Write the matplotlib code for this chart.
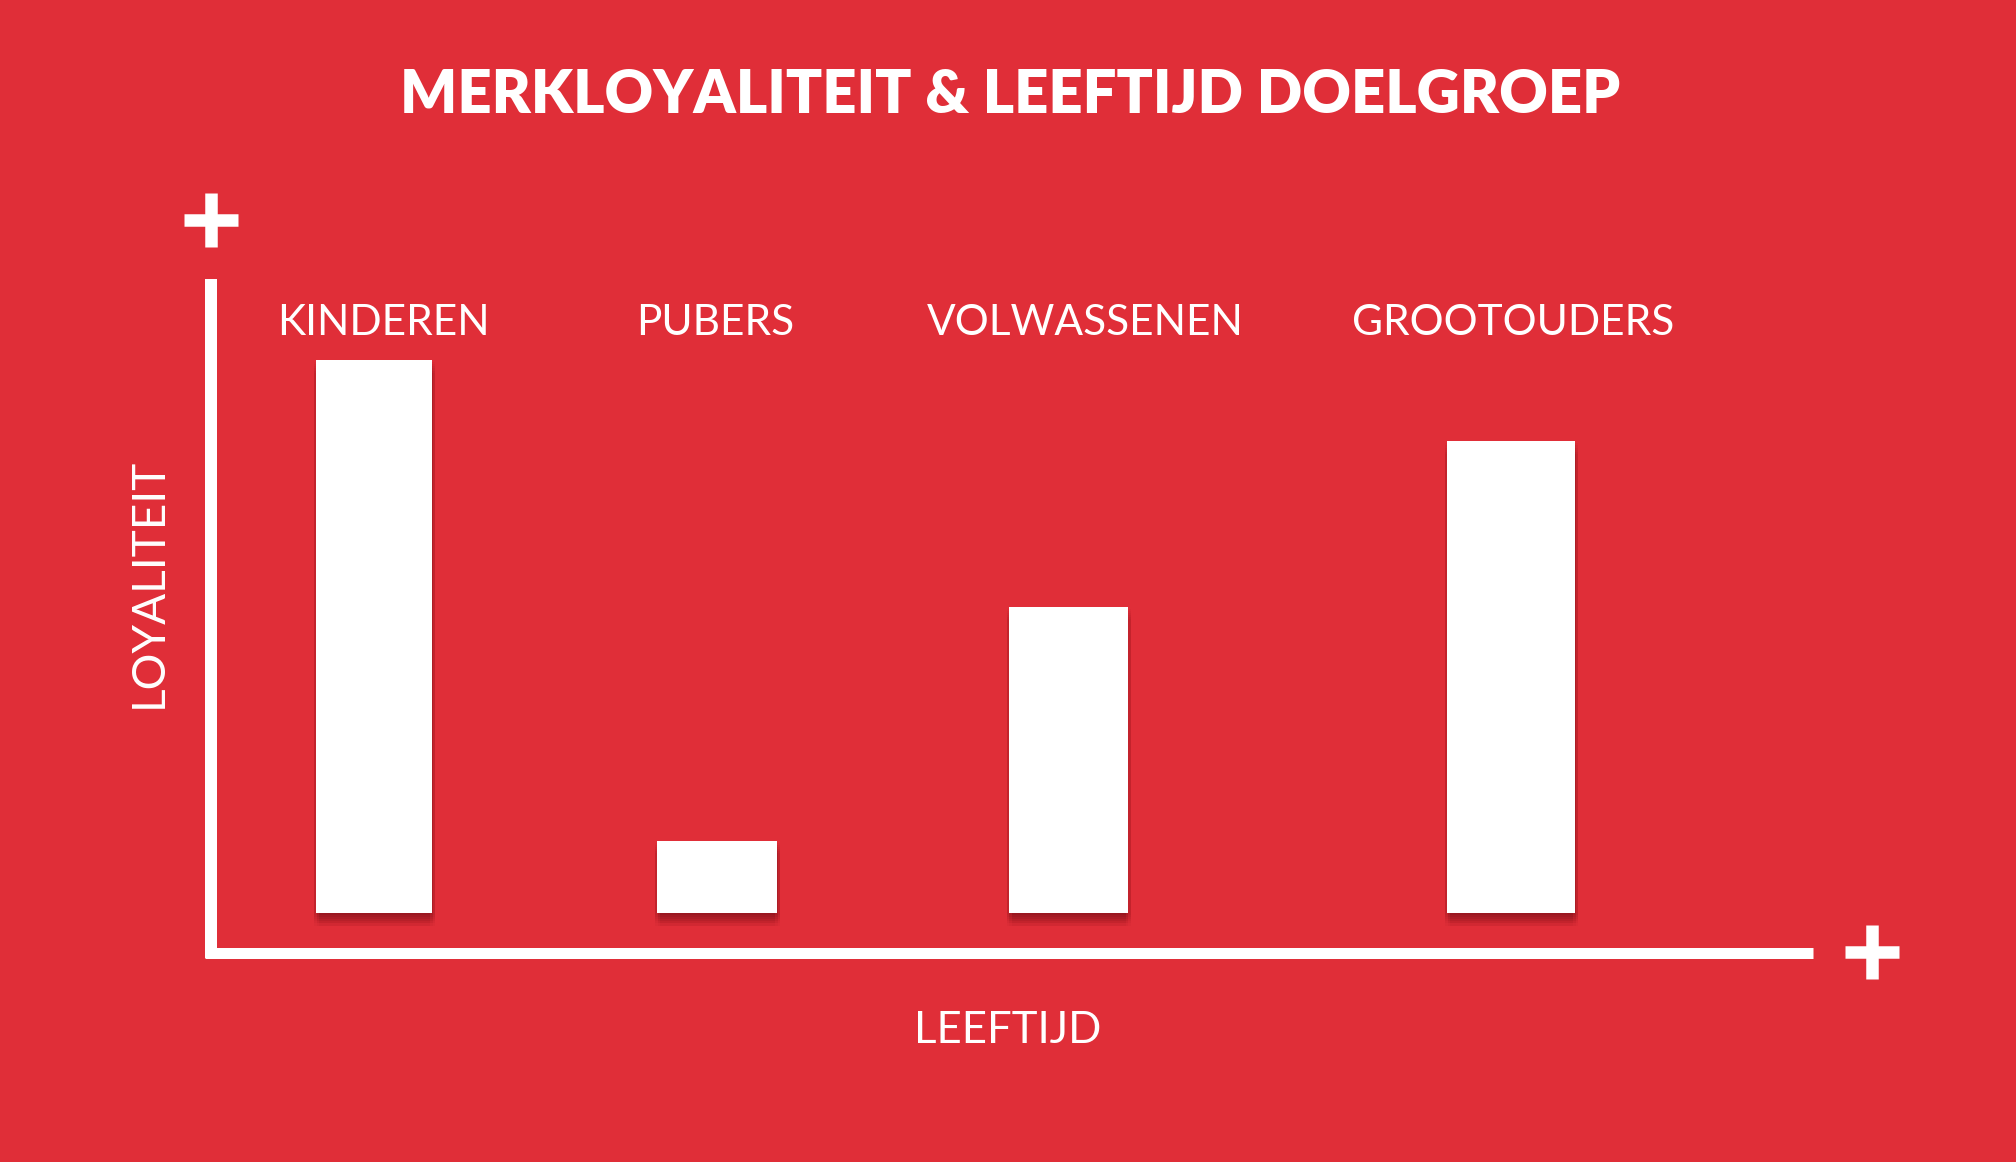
import matplotlib.pyplot as plt
from matplotlib.lines import Line2D
import matplotlib.patheffects as pe

# data (loyaliteit, relative score 0-100)
categories = ['KINDEREN', 'PUBERS', 'VOLWASSENEN', 'GROOTOUDERS']
loyaliteit = [87.2, 11.4, 48.3, 74.4]

title = 'MERKLOYALITEIT & LEEFTIJD DOELGROEP'
xlabel = 'LEEFTIJD'
ylabel = 'LOYALITEIT'

# layout (pixels of a 2016x1162 canvas)
W, H = 2016, 1162
bar_x = [169, 512, 863, 1306]
bar_w = [116, 120, 119, 128]
label_x = [383, 715, 1085, 1513]
bg = '#E02E38'
white = '#FFFFFF'

plt.rcParams['font.family'] = ['Lato', 'DejaVu Sans']

fig = plt.figure(figsize=(W / 100, H / 100), dpi=100, facecolor=bg)

# axes box: x 205..1813 px, y 279..913 px (bars stand on 913)
ax = fig.add_axes([205 / W, 1 - 913 / H, 1608 / W, 634 / H])
ax.set_facecolor(bg)
ax.set_xlim(0, 1608)
ax.set_ylim(0, 100)
ax.axis('off')

# soft drop shadow, mostly below the bars (stacked layers fake a blur)
shadow = []
for k in [1.5, 3, 4.5, 6, 7.5, 9]:
    for dx in [-1.2, 0.5, 2.2]:
        shadow.append(pe.SimplePatchShadow(offset=(dx, -k), shadow_rgbFace='#5a0810',
                                           alpha=0.035))
bars = ax.bar(bar_x, loyaliteit, width=bar_w, color=white, zorder=3)
for b in bars:
    b.set_clip_on(False)
    b.set_path_effects(shadow + [pe.Normal()])


def fig_line(x0, y0, x1, y1, lw_px):
    fig.add_artist(Line2D([x0 / W, x1 / W], [1 - y0 / H, 1 - y1 / H],
                          transform=fig.transFigure, color=white,
                          linewidth=lw_px * 0.72, solid_capstyle='butt'))


# axis lines
fig_line(211, 279, 211, 958, 12)
fig_line(205, 952.5, 1813, 952.5, 11)

# plus signs at the axis ends
for cx, cy in [(211, 220), (1872, 952)]:
    fig_line(cx - 27, cy, cx + 27, cy, 12.5)
    fig_line(cx, cy - 27, cx, cy + 27, 12.5)

# texts
fig.text(1010 / W, 1 - 113 / H, title, color=white, fontsize=43,
         fontweight='heavy', ha='center', va='baseline')

for name, lx in zip(categories, label_x):
    fig.text(lx / W, 1 - 335 / H, name, color=white, fontsize=30.5,
             ha='center', va='baseline')

fig.text(1008 / W, 1 - 1043 / H, xlabel, color=white, fontsize=31.5,
         ha='center', va='baseline')
fig.text(149 / W, 1 - 583 / H, ylabel, color=white, fontsize=33,
         rotation=90, ha='center', va='center')

plt.savefig('out.png', dpi=100, facecolor=bg)
plt.close()
